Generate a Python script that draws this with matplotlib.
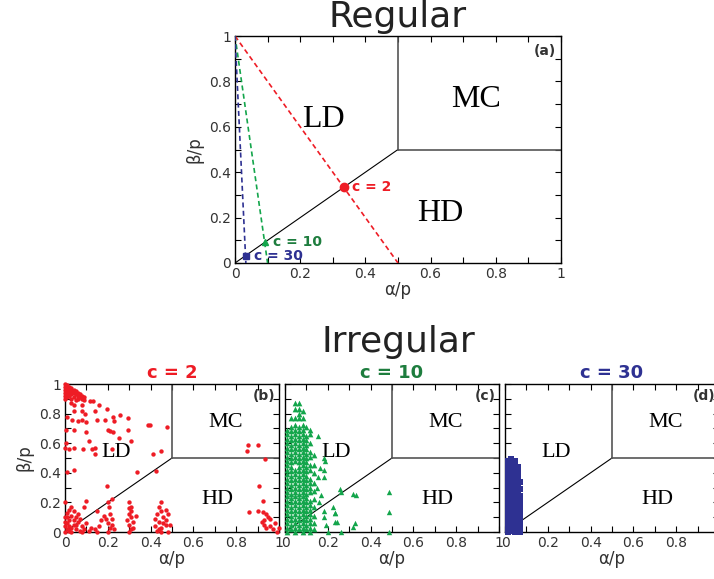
import matplotlib
matplotlib.use("Agg")
import matplotlib.pyplot as plt

# colours
RED = "#ee1c25"
GREEN = "#13a54b"
GREEN_TXT = "#1e7d3e"
BLUE = "#2e3192"

# regular case: c values, line end points on alpha axis, crossing point
reg_c = [2, 10, 30]
reg_alpha_end = [0.5, 0.1, 1 / 30]
reg_cross = [1 / 3, 1 / 11, 1 / 31]

# irregular c = 2 (alpha/p, beta/p)
red_a = [0.00, 0.01, 0.00, 0.02, 0.01, 0.03, 0.00, 0.02, 0.04, 0.01, 0.03, 0.05, 0.00, 0.02, 0.04, 0.06,
         0.01, 0.03, 0.05, 0.07, 0.00, 0.02, 0.06, 0.08, 0.01, 0.04, 0.07, 0.09, 0.03, 0.06, 0.08, 0.00,
         0.09, 0.05,
         0.117, 0.13, 0.16, 0.14, 0.04, 0.03, 0.08, 0.042, 0.08, 0.093, 0.195, 0.257, 0.295, 0.225, 0.23,
         0.15, 0.185, 0.01, 0.033, 0.06, 0.08, 0.10, 0.04, 0.006, 0.10, 0.20, 0.21, 0.225, 0.295, 0.25,
         0.39, 0.395, 0.475, 0.113, 0.31, 0.006, 0.0, 0.02, 0.04, 0.085, 0.125, 0.14, 0.14, 0.22, 0.41,
         0.45, 0.01, 0.04, 0.336, 0.425, 0.195,
         0.0, 0.03, 0.10, 0.20, 0.30, 0.45, 0.09, 0.205, 0.15, 0.30, 0.44, 0.22,
         0.00, 0.01, 0.02, 0.00, 0.03, 0.01, 0.04, 0.02, 0.05, 0.00, 0.03, 0.06, 0.01, 0.04, 0.07, 0.08,
         0.05, 0.02, 0.00, 0.06, 0.09, 0.10, 0.03, 0.07, 0.01, 0.04, 0.08, 0.02, 0.05, 0.11, 0.12,
         0.15, 0.16, 0.17, 0.14, 0.18,
         0.20, 0.21, 0.20, 0.22, 0.23, 0.21, 0.22, 0.19,
         0.30, 0.31, 0.30, 0.32, 0.31, 0.30, 0.32, 0.31, 0.29, 0.33, 0.31,
         0.42, 0.43, 0.44, 0.45, 0.46, 0.47, 0.48, 0.43, 0.45, 0.47, 0.44, 0.46, 0.48, 0.42, 0.45, 0.47, 0.49,
         0.855, 0.85, 0.90, 0.935,
         0.907, 0.925, 0.86, 0.90, 0.925,
         0.94, 0.95, 0.93, 0.92, 0.93, 0.96, 0.97, 0.99, 1.0, 0.98, 0.96, 0.94]
red_b = [1.00, 0.99, 0.98, 0.98, 0.97, 0.97, 0.96, 0.96, 0.96, 0.95, 0.95, 0.95, 0.94, 0.94, 0.94, 0.94,
         0.93, 0.93, 0.93, 0.93, 0.92, 0.92, 0.92, 0.92, 0.91, 0.91, 0.91, 0.91, 0.90, 0.90, 0.90, 0.90,
         0.89, 0.89,
         0.885, 0.885, 0.86, 0.82, 0.86, 0.87, 0.86, 0.82, 0.82, 0.80, 0.83, 0.79, 0.77, 0.78, 0.75,
         0.76, 0.76, 0.78, 0.76, 0.75, 0.76, 0.74, 0.69, 0.69, 0.675, 0.69, 0.68, 0.675, 0.69, 0.635,
         0.72, 0.725, 0.71, 0.615, 0.615, 0.60, 0.567, 0.56, 0.565, 0.56, 0.56, 0.565, 0.53, 0.56, 0.53,
         0.55, 0.405, 0.42, 0.405, 0.41, 0.31,
         0.20, 0.17, 0.21, 0.20, 0.20, 0.20, 0.17, 0.17, 0.14, 0.16, 0.17, 0.22,
         0.00, 0.02, 0.01, 0.04, 0.03, 0.06, 0.05, 0.08, 0.02, 0.10, 0.11, 0.07, 0.13, 0.14, 0.01, 0.04,
         0.10, 0.15, 0.07, 0.12, 0.02, 0.06, 0.00, 0.09, 0.10, 0.08, 0.00, 0.04, 0.05, 0.01, 0.03,
         0.00, 0.04, 0.08, 0.02, 0.11,
         0.00, 0.03, 0.06, 0.09, 0.02, 0.12, 0.05, 0.09,
         0.00, 0.02, 0.05, 0.07, 0.10, 0.12, 0.03, 0.14, 0.08, 0.11, 0.17,
         0.04, 0.01, 0.07, 0.03, 0.10, 0.05, 0.00, 0.12, 0.14, 0.08, 0.02, 0.06, 0.12, 0.09, 0.00, 0.15, 0.05,
         0.59, 0.55, 0.59, 0.49,
         0.31, 0.21, 0.135, 0.14, 0.135,
         0.12, 0.10, 0.08, 0.07, 0.05, 0.04, 0.02, 0.00, 0.03, 0.06, 0.09, 0.03]

# irregular c = 10: dense columns (alpha -> beta values) plus loose points
green_cols = [0.01, 0.028, 0.046, 0.064, 0.082, 0.10, 0.118, 0.136]
green_col_b = [
    [0.00, 0.03, 0.06, 0.09, 0.12, 0.15, 0.18, 0.21, 0.24, 0.27, 0.30, 0.33, 0.36, 0.39, 0.42, 0.45,
     0.48, 0.51, 0.54, 0.57, 0.60, 0.63, 0.66, 0.69],
    [0.02, 0.05, 0.08, 0.11, 0.14, 0.17, 0.20, 0.23, 0.26, 0.29, 0.32, 0.35, 0.38, 0.41, 0.44, 0.47,
     0.50, 0.53, 0.56, 0.59, 0.62, 0.65, 0.68, 0.71, 0.77],
    [0.00, 0.03, 0.06, 0.09, 0.12, 0.15, 0.18, 0.21, 0.24, 0.27, 0.30, 0.33, 0.36, 0.39, 0.42,
     0.48, 0.51, 0.54, 0.57, 0.60, 0.63, 0.66, 0.69, 0.72, 0.77, 0.83, 0.87],
    [0.02, 0.05, 0.08, 0.11, 0.14, 0.17, 0.20, 0.23, 0.26, 0.29, 0.32, 0.35, 0.38, 0.41, 0.44, 0.47,
     0.50, 0.53, 0.56, 0.59, 0.62, 0.65, 0.68, 0.71, 0.77, 0.80, 0.83, 0.87],
    [0.00, 0.03, 0.06, 0.09, 0.12, 0.15, 0.18, 0.21, 0.24, 0.27, 0.30, 0.33, 0.36, 0.39, 0.42, 0.45,
     0.48, 0.51, 0.54, 0.57, 0.60, 0.63, 0.66, 0.69, 0.72, 0.77, 0.82],
    [0.02, 0.05, 0.08, 0.11, 0.14, 0.17, 0.20, 0.23, 0.26, 0.29, 0.32, 0.35, 0.38, 0.41, 0.44, 0.47,
     0.50, 0.53, 0.56, 0.59, 0.62, 0.65, 0.71],
    [0.00, 0.03, 0.06, 0.09, 0.12, 0.15, 0.18, 0.21, 0.27, 0.30, 0.33, 0.36, 0.42, 0.45, 0.51, 0.54,
     0.60, 0.66, 0.69],
    [0.02, 0.06, 0.11, 0.17, 0.22, 0.28, 0.33, 0.40, 0.45, 0.52],
]
green_a = [0.156, 0.18, 0.185, 0.164, 0.18, 0.155, 0.18, 0.258, 0.26, 0.32, 0.33, 0.487, 0.487, 0.487,
           0.234, 0.235, 0.225, 0.242, 0.235, 0.328, 0.32, 0.26, 0.18, 0.18, 0.16, 0.17, 0.19, 0.20, 0.15]
green_b = [0.65, 0.50, 0.48, 0.43, 0.42, 0.37, 0.37, 0.29, 0.27, 0.254, 0.25, 0.267, 0.134, 0.0,
           0.127, 0.13, 0.17, 0.07, 0.07, 0.06, 0.035, 0.0, 0.10, 0.14, 0.20, 0.25, 0.05, 0.0, 0.30]

# irregular c = 30: dense columns
blue_cols = [0.015, 0.03, 0.045, 0.06, 0.072]
blue_col_b = [
    [0.00, 0.02, 0.04, 0.06, 0.08, 0.10, 0.12, 0.14, 0.16, 0.18, 0.20, 0.22, 0.24, 0.26, 0.28, 0.30,
     0.32, 0.34, 0.36, 0.38, 0.40, 0.42, 0.44, 0.46, 0.48],
    [0.01, 0.03, 0.05, 0.07, 0.09, 0.11, 0.13, 0.15, 0.17, 0.19, 0.21, 0.23, 0.25, 0.27, 0.29, 0.31,
     0.33, 0.35, 0.37, 0.39, 0.41, 0.43, 0.45, 0.47, 0.49],
    [0.00, 0.02, 0.04, 0.06, 0.08, 0.10, 0.12, 0.14, 0.16, 0.18, 0.20, 0.22, 0.24, 0.26, 0.28, 0.30,
     0.32, 0.34, 0.36, 0.38, 0.40, 0.42, 0.44, 0.46, 0.48],
    [0.01, 0.03, 0.05, 0.07, 0.09, 0.11, 0.13, 0.15, 0.17, 0.19, 0.21, 0.23, 0.25, 0.27, 0.29, 0.31,
     0.33, 0.35, 0.37, 0.39, 0.41, 0.44],
    [0.00, 0.02, 0.04, 0.07, 0.10, 0.13, 0.16, 0.20, 0.24, 0.29, 0.34],
]

ticks = [0, 0.2, 0.4, 0.6, 0.8, 1]
tick_labels = ["0", "0.2", "0.4", "0.6", "0.8", "1"]
minor = [0.1, 0.3, 0.5, 0.7, 0.9]


def setup_panel(ax, tag, big, ylab=True):
    ax.set_xlim(0, 1)
    ax.set_ylim(0, 1)
    ax.set_xticks(ticks)
    ax.set_xticklabels(tick_labels)
    ax.set_yticks(ticks)
    ax.set_yticklabels(tick_labels if ylab else [])
    ax.set_xticks(minor, minor=True)
    ax.set_yticks(minor, minor=True)
    ax.tick_params(which="both", direction="in", top=True, right=True, length=4, width=0.8,
                   labelsize=10, labelcolor="#333333", pad=3)
    for sp in ax.spines.values():
        sp.set_linewidth(1.0)
    # phase boundaries
    ax.plot([0, 0.5], [0, 0.5], color="black", lw=0.8, zorder=2)
    ax.plot([0.5, 0.5], [0.5, 1], color="#555555", lw=1.2, zorder=2)
    ax.plot([0.5, 1], [0.5, 0.5], color="#555555", lw=1.2, zorder=2)
    fs = 23 if big else 16
    serif = dict(family="Liberation Serif", fontsize=fs, ha="center", va="center")
    ax.text(0.27 if big else 0.24, 0.63 if big else 0.54, "LD", **serif)
    ax.text(0.74 if big else 0.75, 0.72 if big else 0.74, "MC", **serif)
    ax.text(0.63 if big else 0.71, 0.22, "HD", **serif)
    ax.text(0.985, 0.965, tag, fontsize=10, fontweight="bold", color="#333333", ha="right", va="top")
    ax.set_xlabel("α/p", fontsize=12, color="#333333", labelpad=0)
    if ylab:
        ax.set_ylabel("β/p", fontsize=12, color="#333333", labelpad=4)


fig = plt.figure(figsize=(7.14, 5.79), dpi=100)

# regular panel
ax = fig.add_axes([235 / 714, 1 - 263 / 579, 326 / 714, 227 / 579])
setup_panel(ax, "(a)", True)
reg_cols = [RED, GREEN, BLUE]
reg_marks = ["o", "^", "s"]
reg_txt = [RED, GREEN_TXT, BLUE]
for c, a_end, xc, col, mk, tc in zip(reg_c, reg_alpha_end, reg_cross, reg_cols, reg_marks, reg_txt):
    ax.plot([0, a_end], [1, 0], color=col, lw=1.2, ls=(0, (3, 2)), zorder=3)
    ax.plot([xc], [xc], marker=mk, color=col, ms=6 if mk == "o" else 5, zorder=4)
    ax.text(xc + 0.025, xc, "c = %d" % c, color=tc, fontsize=10, fontweight="bold",
            ha="left", va="center", zorder=5)
fig.text(398 / 714, 1 - 17 / 579, "Regular", fontsize=26, ha="center", va="center", color="#222222")

# irregular panels
fig.text(398 / 714, 1 - 342 / 579, "Irregular", fontsize=26, ha="center", va="center", color="#222222")
pw, ph, pb = 214 / 714, 148 / 579, 1 - 532 / 579

axb = fig.add_axes([65 / 714, pb, pw, ph])
setup_panel(axb, "(b)", False)
axb.scatter(red_a, red_b, s=10, color=RED, marker="o", lw=0, zorder=3, clip_on=False)
axb.set_title("c = 2", color=RED, fontsize=13, fontweight="bold", pad=4)

axc = fig.add_axes([285 / 714, pb, pw, ph])
setup_panel(axc, "(c)", False, ylab=False)
for a, bl in zip(green_cols, green_col_b):
    axc.scatter([a] * len(bl), bl, s=17, color=GREEN, marker="^", lw=0, zorder=3, clip_on=False)
axc.scatter(green_a, green_b, s=15, color=GREEN, marker="^", lw=0, zorder=3, clip_on=False)
axc.set_title("c = 10", color=GREEN_TXT, fontsize=13, fontweight="bold", pad=4)

axd = fig.add_axes([505 / 714, pb, pw, ph])
setup_panel(axd, "(d)", False, ylab=False)
for a, bl in zip(blue_cols, blue_col_b):
    axd.scatter([a] * len(bl), bl, s=13, color=BLUE, marker="s", lw=0, zorder=3, clip_on=False)
axd.set_title("c = 30", color=BLUE, fontsize=13, fontweight="bold", pad=4)

fig.savefig("out.png", dpi=100)
